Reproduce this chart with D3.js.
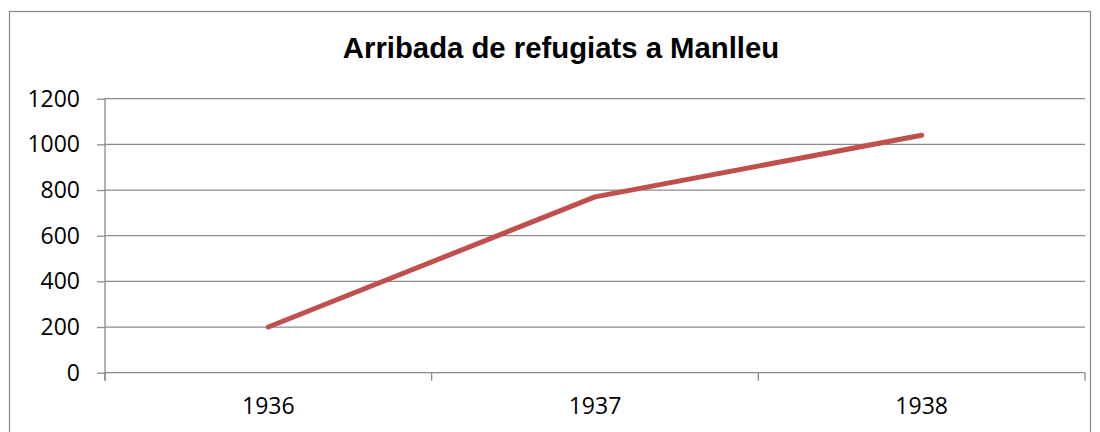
<!DOCTYPE html>
<html><head><meta charset="utf-8">
<script src="https://cdn.jsdelivr.net/npm/d3@7"></script>
<style>html,body{margin:0;padding:0;background:#fff;}svg{display:block;}</style>
</head><body>
<svg id="c" width="1100" height="432"></svg>
<script>
const title = "Arribada de refugiats a Manlleu";
const categories = ["1936", "1937", "1938"];
const refugees = [200, 770, 1040];
const yTicks = [0, 200, 400, 600, 800, 1000, 1200];

const svg = d3.select("#c");
const m = {left: 105, right: 1085, top: 98.7, bottom: 372.7};

svg.append("rect").attr("x", 9.5).attr("y", 11.5).attr("width", 1081).attr("height", 440)
  .attr("fill", "#fff").attr("stroke", "#878787").attr("stroke-width", 1.2);

const x = d3.scaleBand().domain(categories).range([m.left, m.right]).padding(0);
const y = d3.scaleLinear().domain([0, 1200]).range([m.bottom, m.top]);

// gridlines
svg.append("g").selectAll("line").data(yTicks).join("line")
  .attr("x1", m.left).attr("x2", m.right)
  .attr("y1", d => y(d)).attr("y2", d => y(d))
  .attr("stroke", "#8a8a8a").attr("stroke-width", 1.3);

// y axis
const yAxis = d3.axisLeft(y).tickValues(yTicks).tickSize(8).tickPadding(17).tickFormat(d3.format("d"));
const gy = svg.append("g").attr("transform", `translate(${m.left},0)`).call(yAxis);
gy.select(".domain").remove();
gy.selectAll(".tick line").attr("stroke", "#8a8a8a").attr("stroke-width", 1.3);
gy.selectAll("text").attr("font-family", "'Open Sans', sans-serif").attr("font-size", 23).attr("fill", "#000");
svg.append("line").attr("x1", m.left).attr("x2", m.left).attr("y1", m.top).attr("y2", m.bottom + 8)
  .attr("stroke", "#8a8a8a").attr("stroke-width", 1.3);

// x axis
const gx = svg.append("g").attr("transform", `translate(0,${m.bottom})`)
  .call(d3.axisBottom(x).tickSize(0).tickPadding(25));
gx.select(".domain").remove();
gx.selectAll("text").attr("font-family", "'Open Sans', sans-serif").attr("font-size", 23).attr("fill", "#000");
const bounds = categories.map(c => x(c)).concat([x(categories[categories.length-1]) + x.bandwidth()]);
svg.append("g").selectAll("line").data(bounds).join("line")
  .attr("x1", d => d).attr("x2", d => d).attr("y1", m.bottom).attr("y2", m.bottom + 8)
  .attr("stroke", "#8a8a8a").attr("stroke-width", 1.3);

// line
const line = d3.line().x((d, i) => x(categories[i]) + x.bandwidth() / 2).y(d => y(d));
svg.append("path").datum(refugees).attr("d", line)
  .attr("fill", "none").attr("stroke", "#C0504D").attr("stroke-width", 5)
  .attr("stroke-linecap", "round").attr("stroke-linejoin", "round");

// title
svg.append("text").attr("x", 561).attr("y", 58).attr("text-anchor", "middle")
  .attr("font-family", "'Liberation Sans', Arial, sans-serif").attr("font-weight", "bold")
  .attr("font-size", 29.3).attr("fill", "#000").text(title);
</script>
</body></html>
